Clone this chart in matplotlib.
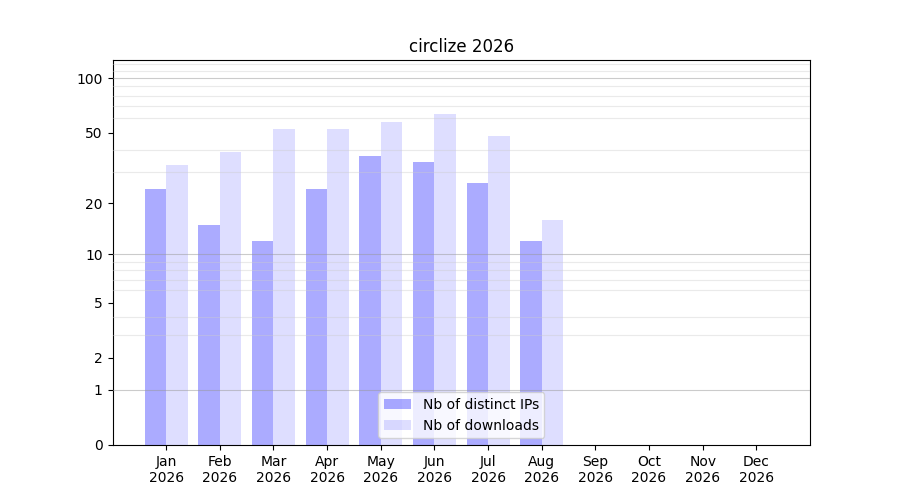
import numpy as np
import matplotlib
matplotlib.use('Agg')
import matplotlib.pyplot as plt

months = ['Jan', 'Feb', 'Mar', 'Apr', 'May', 'Jun',
          'Jul', 'Aug', 'Sep', 'Oct', 'Nov', 'Dec']
year = '2026'
ips = [24, 15, 12, 24, 37, 34, 26, 12]
downloads = [33, 39, 52, 52, 57, 63, 48, 16]
ytick_vals = [0, 1, 2, 5, 10, 20, 50, 100]


def fwd(x):
    return np.log10(1 + np.clip(x, 0, None))


def inv(y):
    return 10 ** y - 1


fig, ax = plt.subplots(figsize=(9, 5), dpi=100)
ax.set_yscale('function', functions=(fwd, inv))

x = np.arange(len(ips))
ax.bar(x - 0.2, ips, width=0.4, color='blue', alpha=0.33,
       label='Nb of distinct IPs')
ax.bar(x + 0.2, downloads, width=0.4, color='blue', alpha=0.13,
       label='Nb of downloads')

ax.set_xticks(np.arange(len(months)))
ax.set_xticklabels([m + '\n' + year for m in months])
ax.set_xlim(-1, 12)
ax.set_ylim(0, 2 * max(downloads))

ax.set_yticks(ytick_vals)
ax.set_yticklabels([str(v) for v in ytick_vals])
minor = list(range(2, 10)) + list(range(20, 100, 10)) + [110, 120]
ax.set_yticks(minor, minor=True)
ax.tick_params(axis='y', which='minor', length=0)
ax.set_axisbelow(False)
ax.grid(True, which='minor', axis='y', color='#cccccc', alpha=0.4, linewidth=0.8)
for g in [1, 10, 100]:
    ax.axhline(g, color='#999999', alpha=0.5, linewidth=0.8, zorder=3)

ax.set_title('circlize 2026')
ax.legend(loc='lower center')

fig.savefig('out.png')
